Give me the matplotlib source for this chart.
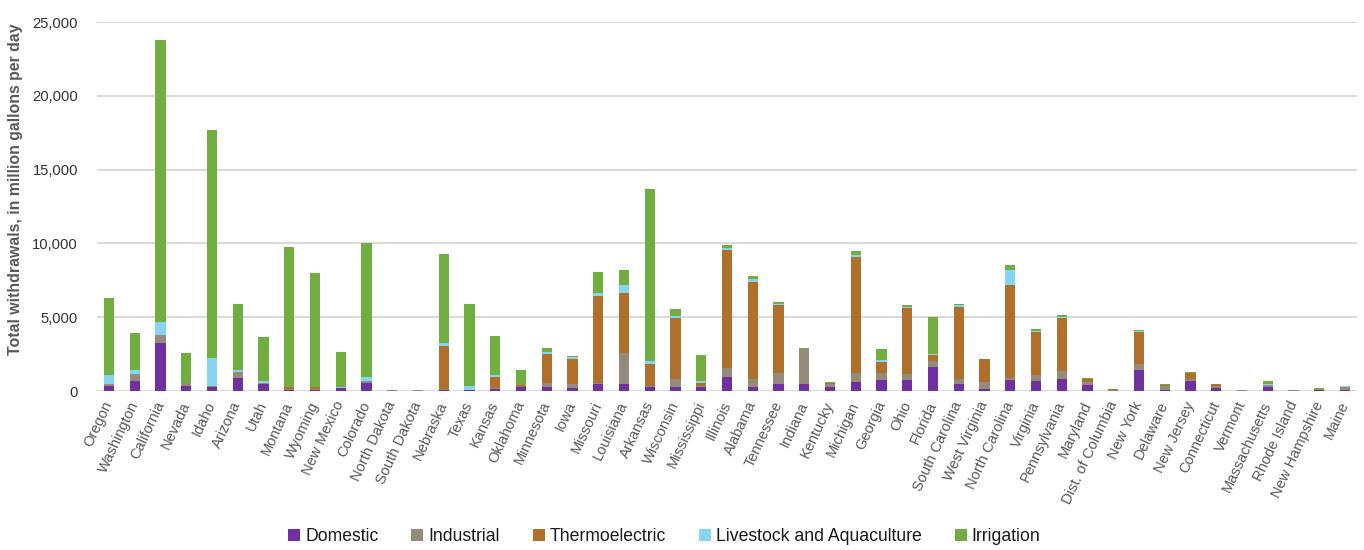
import matplotlib.pyplot as plt
import numpy as np

# states, west to east
states = [
    "Oregon", "Washington", "California", "Nevada", "Idaho", "Arizona", "Utah",
    "Montana", "Wyoming", "New Mexico", "Colorado", "North Dakota", "South Dakota",
    "Nebraska", "Texas", "Kansas", "Oklahoma", "Minnesota", "Iowa", "Missouri",
    "Louisiana", "Arkansas", "Wisconsin", "Mississippi", "Illinois", "Alabama",
    "Tennessee", "Indiana", "Kentucky", "Michigan", "Georgia", "Ohio", "Florida",
    "South Carolina", "West Virginia", "North Carolina", "Virginia", "Pennsylvania",
    "Maryland", "Dist. of Columbia", "New York", "Delaware", "New Jersey",
    "Connecticut", "Vermont", "Massachusetts", "Rhode Island", "New Hampshire", "Maine",
]

# withdrawals, million gallons per day
domestic = [
    340, 680, 3250, 320, 270, 900, 500,
    50, 50, 180, 570, 20, 20,
    100, 60, 150, 250, 290, 200, 470,
    470, 250, 290, 250, 970, 290,
    450, 470, 300, 640, 770, 750, 1650,
    450, 160, 730, 660, 790,
    430, 0, 1400, 60, 660,
    180, 20, 300, 20, 40, 40,
]
industrial = [
    110, 500, 530, 220, 50, 410, 60,
    80, 100, 60, 110, 30, 20,
    20, 40, 50, 30, 230, 250, 50,
    2130, 100, 500, 110, 570, 500,
    790, 2350, 200, 610, 480, 430, 380,
    340, 450, 150, 450, 590,
    180, 80, 450, 300, 180,
    150, 30, 100, 30, 70, 220,
]
thermoelectric = [
    0, 0, 0, 0, 0, 0, 0,
    150, 100, 0, 0, 20, 0,
    2930, 0, 770, 120, 1980, 1720, 5950,
    4070, 1450, 4180, 160, 8020, 6620,
    4590, 20, 60, 7840, 740, 4450, 440,
    4930, 1580, 6280, 2870, 3590,
    180, 30, 2180, 40, 360,
    120, 0, 30, 0, 50, 10,
]
livestock = [
    660, 220, 900, 0, 1940, 90, 100,
    20, 20, 20, 270, 0, 0,
    180, 240, 90, 0, 170, 150, 200,
    520, 230, 130, 160, 110, 160,
    90, 0, 0, 110, 140, 90, 60,
    80, 0, 1020, 110, 80,
    0, 0, 30, 0, 0,
    0, 0, 20, 0, 0, 50,
]
irrigation = [
    5190, 2560, 19070, 2060, 15410, 4520, 3000,
    9440, 7710, 2400, 9100, 10, 10,
    6080, 5560, 2690, 1000, 220, 50, 1400,
    1010, 11670, 460, 1760, 230, 230,
    130, 50, 30, 290, 740, 90, 2470,
    120, 0, 360, 90, 130,
    110, 0, 80, 100, 110,
    0, 20, 210, 10, 20, 0,
]

series = [
    ("Domestic", domestic, "#7030A0"),
    ("Industrial", industrial, "#958B7A"),
    ("Thermoelectric", thermoelectric, "#B06F2A"),
    ("Livestock and Aquaculture", livestock, "#85D4F2"),
    ("Irrigation", irrigation, "#6FAE3F"),
]

plt.rcParams["font.family"] = ["Liberation Sans", "DejaVu Sans"]

fig = plt.figure(figsize=(13.64, 5.5), dpi=100)
ax = fig.add_axes([0.071, 0.289, 0.924, 0.671])

x = np.arange(len(states))
bottom = np.zeros(len(states))
for name, vals, color in series:
    vals = np.array(vals, dtype=float)
    ax.bar(x, vals, width=0.4, bottom=bottom, color=color, label=name, zorder=3)
    bottom += vals

ax.set_ylim(0, 25000)
ax.set_xlim(-0.47, len(states) - 0.53)
ax.set_yticks(np.arange(0, 25001, 5000))
ax.set_yticklabels([f"{v:,}" for v in range(0, 25001, 5000)], fontsize=10.6, color="#333333")
ax.yaxis.grid(True, color="#D9D9D9", linewidth=1.4, zorder=0)
ax.set_axisbelow(True)
for side in ["top", "right", "left", "bottom"]:
    ax.spines[side].set_visible(False)
ax.tick_params(axis="both", length=0)
ax.tick_params(axis="y", pad=13.5)

ax.set_xticks(x)
ax.set_xticklabels(states, rotation=65, ha="right", va="center",
                   rotation_mode="anchor", fontsize=10.5, color="#595959")
ax.tick_params(axis="x", pad=8)

ax.set_ylabel("Total withdrawals, in million gallons per day", fontsize=11.4,
              fontweight="bold", color="#595959")
ax.yaxis.set_label_coords(-0.0587, 0.547)

fig.legend(loc="lower center", bbox_to_anchor=(0.487, -0.02), ncol=5, frameon=False,
           fontsize=12.7, handlelength=0.68, handleheight=0.68, handletextpad=0.3,
           columnspacing=1.85, labelcolor="#1a1a1a")

fig.savefig("out.png", dpi=100)
